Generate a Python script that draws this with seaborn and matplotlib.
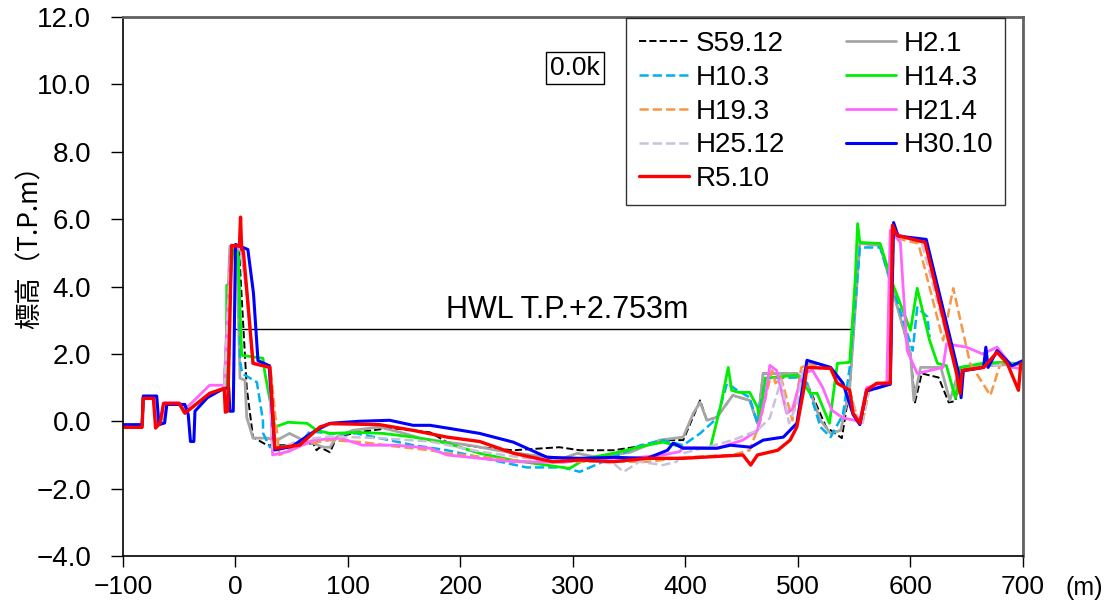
import matplotlib
matplotlib.use("Agg")
import matplotlib.pyplot as plt
import matplotlib.ticker as mticker
import numpy as np
import pandas as pd
import seaborn as sns

# === 共通の左岸形状 ===
left_x = [-100, -83, -82, -72, -70, -66, -63, -50, -45, -23, -10]
left_y = [-0.15, -0.15, 0.7, 0.7, -0.15, -0.05, 0.5, 0.5, 0.25, 0.8, 0.95]

# === 各年度の横断データ ===
s59_x = left_x + [-6, -4, 3, 10, 15.6, 28, 55, 69, 72, 75, 84, 90, 108, 137, 158, 173, 188, 217, 247, 288, 306, 336,
                  366, 380, 398, 413, 419, 428, 442, 457, 464, 469, 499, 508, 525, 539, 546, 555, 573, 600, 604, 610,
                  625, 634, 640, 644, 665, 700]
s59_y = left_y + [1.0, 5.2, 5.2, 1.0, -0.47, -0.71, -0.71, -0.65, -0.86, -0.77, -0.92, -0.47, -0.33, -0.2, -0.27,
                  -0.33, -0.62, -0.77, -0.86, -0.77, -0.86, -0.86, -0.71, -0.56, -0.56, 0.62, 0.03, 0.12, 0.77, 0.62,
                  -0.06, 1.42, 1.42, 1.13, -0.17, -0.5, 1.0, 5.28, 5.22, 2.0, 0.56, 1.42, 1.3, 0.56, 0.6, 1.51, 1.65,
                  1.7]

h2_x = left_x + [-5, 1, 4, 8.4, 10, 15.6, 28, 37, 48, 60, 69, 78, 84, 90, 104, 128, 150, 164, 188, 208, 232, 262,
                 291, 304, 321, 351, 377, 398, 407, 413, 419, 428, 442, 457, 464, 469, 499, 508, 520, 529, 538, 546,
                 555, 573, 600, 603, 609, 627, 635, 644, 665, 700]
h2_y = left_y + [5.2, 5.2, 1.28, 1.22, 0.12, -0.5, -0.5, -0.56, -0.36, -0.56, -0.65, -0.77, -0.77, -0.47, -0.27,
                 -0.17, -0.36, -0.5, -0.62, -0.71, -0.86, -1.0, -1.1, -0.95, -1.07, -0.92, -0.56, -0.47, 0.24, 0.56,
                 0.03, 0.12, 0.77, 0.62, -0.06, 1.42, 1.42, 1.13, 0.03, -0.36, -0.27, 1.0, 5.28, 5.22, 2.0, 0.62,
                 1.6, 1.6, 0.62, 1.6, 1.65, 1.7]

h10_x = left_x + [-4, 3, 4, 6, 19, 24.4, 24.6, 30.7, 57, 66, 84, 108, 128, 158, 188, 217, 259, 291, 306, 336, 360,
                  380, 398, 413, 428, 437, 446, 457, 464, 471, 499, 508, 520, 529, 540, 546, 555, 573, 602, 606, 615,
                  617]
h10_y = left_y + [5.2, 5.2, 1.8, 1.42, 1.16, 0.03, -0.36, -0.77, -0.7, -0.3, -0.36, -0.36, -0.5, -0.71, -0.86,
                  -1.07, -1.37, -1.37, -1.5, -1.07, -0.71, -0.56, -0.71, -0.36, 0.09, 1.13, 0.92, 0.71, -0.06, 1.28,
                  1.3, 1.13, -0.17, -0.47, 0.2, 1.6, 5.16, 5.16, 2.1, 3.38, 3.1, 2.5]

h14_x = left_x + [-8, -7.8, -5, -2, 2, 5.5, 24.4, 26.2, 35.1, 46.7, 63.6, 72.4, 84, 108, 131, 158, 188, 217, 247,
                  297, 312, 336, 366, 380, 398, 422, 431, 438, 441, 447, 457, 464, 466, 471, 499, 511, 517, 528, 535,
                  546, 551, 553, 555, 573, 584, 600, 606, 617, 624, 632, 640, 644, 664, 680, 700]
h14_y = left_y + [1.0, 4.04, 4.04, 5.2, 5.2, 1.96, 1.87, 1.42, -0.17, -0.03, -0.06, -0.27, -0.36, -0.33, -0.36,
                  -0.47, -0.65, -0.95, -1.16, -1.4, -1.1, -0.95, -0.71, -0.62, -0.77, -0.8, 0.42, 1.6, 0.92, 0.86,
                  0.86, 0.42, 0.03, 1.28, 1.37, 0.83, 0.83, -0.06, 1.72, 1.75, 4.27, 5.87, 5.31, 5.28, 4.1, 2.7, 3.95,
                  2.4, 1.72, 1.65, 0.68, 1.6, 1.72, 1.75, 1.7]

h19_x = left_x + [-4, 4, 10, 15.6, 30.7, 39, 57, 84, 113, 143, 173, 188, 259, 306, 368, 398, 442, 457, 466, 472,
                  477, 480, 485, 492, 495, 503, 510, 529, 535, 546, 552, 557, 563, 582, 585, 588, 607, 629, 638, 653,
                  671, 680, 690, 700]
h19_y = left_y + [5.2, 5.2, 3.9, 1.72, 1.66, -1.0, -0.7, -0.56, -0.62, -0.75, -0.86, -0.95, -1.2, -1.2, -1.2,
                  -1.07, -1.0, -0.86, -0.06, 0.83, 1.51, 1.13, 1.3, 0.42, 0.03, 1.6, 1.7, 1.57, 1.13, 0.9, 0.2, -0.1,
                  0.9, 1.1, 5.6, 5.43, 5.28, 2.4, 3.95, 1.72, 0.77, 1.72, 1.6, 1.6]

h21_x = left_x + [-4, 5, 10, 15.6, 30, 33, 47, 69, 93, 113, 143, 173, 188, 217, 247, 291, 321, 351, 380, 395, 398,
                  428, 451, 464, 471, 475, 481, 490, 495, 504, 513, 522, 530, 540, 555, 561, 579, 582, 591, 597, 606,
                  629, 632, 650, 664, 677, 691, 700]
h21_y = [-0.15, -0.15, 0.7, 0.7, -0.15, -0.05, 0.55, 0.55, 0.35, 1.07, 1.07] + [
    5.2, 5.1, 3.9, 1.72, 1.6, -1.0, -0.9, -0.56, -0.5, -0.71, -0.71, -0.8, -1.0, -1.1, -1.2, -1.22, -1.1, -1.1, -1.0,
    -0.9, -0.77, -0.8, -0.56, -0.27, 0.71, 1.66, 1.51, 0.24, 0.35, 1.42, 1.51, 1.0, 0.33, 0.1, 0.0, 1.0, 1.16, 5.67,
    5.31, 2.1, 1.42, 1.6, 2.3, 2.2, 2.0, 2.2, 1.6, 1.55]

h25_x = left_x + [-4, 4, 10, 15.6, 30, 33, 57, 84, 128, 173, 217, 259, 306, 336, 345, 359, 380, 392, 398, 442, 464,
                  475, 485, 492, 499, 505, 529, 535, 546, 552, 557, 563, 582, 585, 610, 641, 646, 665, 686, 700]
h25_y = left_y + [5.2, 5.2, 3.9, 1.72, 1.6, -0.9, -0.56, -0.45, -0.5, -0.6, -0.9, -1.1, -1.15, -1.25, -1.5, -1.2,
                  -1.3, -1.2, -0.95, -0.56, -0.27, 0.1, 1.22, -0.06, 0.5, 1.6, 1.57, 1.13, 0.9, 0.2, -0.1, 0.9, 1.1,
                  5.6, 5.3, 1.4, 1.5, 1.6, 1.7, 1.7]

h30_x = [-100, -83, -82, -70, -68, -63, -61, -45, -42, -40, -37, -36, -25, -12, -6, -5, -2, 0, 11, 16, 20, 30, 35,
         50, 70, 84, 110, 137, 158, 173, 188, 217, 247, 277, 306, 336, 366, 384, 389, 398, 428, 440, 458, 469, 487,
         499, 508, 529, 540, 549, 555, 561, 582, 585, 589, 614, 643, 645, 647, 665, 667, 669, 677, 690, 700]
h30_y = [-0.1, -0.1, 0.75, 0.75, -0.1, -0.05, 0.5, 0.5, 0.2, -0.6, -0.6, 0.3, 0.7, 0.95, 1.0, 0.3, 0.3, 5.25, 5.1,
         3.8, 1.8, 1.65, -0.85, -0.75, -0.3, -0.06, 0.0, 0.03, -0.12, -0.12, -0.2, -0.36, -0.62, -1.07, -1.1,
         -1.07, -1.1, -0.86, -0.65, -0.8, -0.8, -0.71, -0.77, -0.56, -0.47, -0.06, 1.81, 1.6, 1.13, 0.2, -0.1,
         0.9, 1.1, 5.9, 5.5, 5.4, 1.4, 0.7, 1.5, 1.6, 2.2, 1.6, 2.1, 1.65, 1.8]

r5_x = [-100, -83, -82, -73, -71, -67, -64, -50, -45, -23, -10, -9, -7, -3.4, 3.5, 4.5, 5.5, 7, 10, 15.6, 30.7, 35,
        57, 75, 84, 128, 158, 188, 217, 247, 282, 306, 336, 366, 398, 451, 458, 464, 482, 493, 499, 505, 508, 529,
        535, 546, 549, 555, 561, 570, 582, 584, 588, 613, 641, 644, 646, 665, 677, 686, 696, 698, 700]
r5_y = [-0.18, -0.18, 0.68, 0.68, -0.2, -0.05, 0.53, 0.53, 0.24, 0.83, 0.98, 0.27, 0.3, 5.22, 5.2, 6.06, 5.1, 5.05,
        3.9, 1.72, 1.6, -0.8, -0.71, -0.17, -0.07, -0.1, -0.27, -0.47, -0.6, -0.95, -1.2, -1.15, -1.2, -1.1, -1.1,
        -1.0, -1.3, -1.0, -0.86, -0.56, -0.17, 0.92, 1.6, 1.57, 1.13, 0.92, 0.24, -0.06, 0.92, 1.13, 1.13, 5.82,
        5.52, 5.31, 1.42, 0.83, 1.51, 1.6, 2.05, 1.72, 0.92, 1.7, 1.72]

labels = ["S59.12", "H2.1", "H10.3", "H14.3", "H19.3", "H21.4", "H25.12", "H30.10", "R5.10"]
series = [(s59_x, s59_y), (h2_x, h2_y), (h10_x, h10_y), (h14_x, h14_y), (h19_x, h19_y),
          (h21_x, h21_y), (h25_x, h25_y), (h30_x, h30_y), (r5_x, r5_y)]
colors = ["black", "#a6a6a6", "#00b0f0", "#00ee00", "#f79646", "#ff66ff", "#ccc0da", "#0000ff", "#ff0000"]
styles = ["--", "-", "--", "-", "--", "-", "--", "-", "-"]
widths = [1.4, 2.0, 1.8, 2.0, 1.8, 2.0, 1.8, 2.2, 2.4]

hwl = 2.753
hwl_range = [0, 550]

# === 描画 ===
sns.set_theme(style="white")
plt.rcParams['font.family'] = ['Liberation Sans', 'DejaVu Sans']
plt.rcParams['text.color'] = 'black'
plt.rcParams['xtick.color'] = 'black'
plt.rcParams['ytick.color'] = 'black'
plt.rcParams['axes.labelcolor'] = 'black'

fig = plt.figure(figsize=(11.18, 6.11), dpi=100)
ax = fig.add_axes([0.110, 0.090, 0.805, 0.882])

for (xs, ys), lab, c, ls, lw in zip(series, labels, colors, styles, widths):
    df = pd.DataFrame({"x": xs, "y": ys})
    sns.lineplot(data=df, x="x", y="y", sort=False, estimator=None, color=c,
                 linestyle=ls, linewidth=lw, ax=ax, label=lab)

# HWL
ax.plot(hwl_range, [hwl, hwl], color="black", linewidth=1.0, zorder=1)
ax.text(295, hwl + 0.12, "HWL T.P.+2.753m", ha="center", va="bottom", fontsize=22)

ax.text(0.502, 0.905, "0.0k", transform=ax.transAxes, ha="center", va="center", fontsize=19,
        bbox=dict(boxstyle="square,pad=0.15", facecolor="white", edgecolor="black", linewidth=1.0))

ax.set_xlim(-100, 700)
ax.set_ylim(-4, 12)
ax.set_xticks(np.arange(-100, 701, 100))
ax.set_yticks(np.arange(-4, 12.1, 2))
ax.yaxis.set_major_formatter(mticker.FuncFormatter(lambda v, p: f"{v:.1f}".replace("-", "\u2212")))
ax.tick_params(axis='y', direction='out', length=9, width=1, labelsize=20, pad=14, left=True)
ax.tick_params(axis='x', direction='out', length=8, width=1, labelsize=19, pad=6, bottom=True)

for side in ["left", "bottom"]:
    ax.spines[side].set_color("black")
    ax.spines[side].set_linewidth(1.2)
for side in ["top", "right"]:
    ax.spines[side].set_color("#606060")
    ax.spines[side].set_linewidth(2.0)

ax.set_xlabel("")
ax.set_ylabel("標高（T.P.m）", fontsize=19, family=['Noto Sans CJK JP', 'DejaVu Sans'])
ax.yaxis.set_label_coords(-0.088, 0.585)
fig.text(0.970, 0.038, "(m)", fontsize=18, ha="center", va="center")

h, l = ax.get_legend_handles_labels()
order = [0, 2, 4, 6, 8, 1, 3, 5, 7]
leg = ax.legend([h[i] for i in order], [l[i] for i in order], ncol=2, loc="upper right",
                bbox_to_anchor=(0.982, 1.0), fontsize=20, frameon=True, fancybox=False,
                handlelength=1.8, handletextpad=0.25, columnspacing=2.2, labelspacing=0.28,
                borderpad=0.45, borderaxespad=0.05)
leg.get_frame().set_edgecolor("black")
leg.get_frame().set_linewidth(1.0)

fig.savefig("out.png", dpi=100)
plt.close(fig)
